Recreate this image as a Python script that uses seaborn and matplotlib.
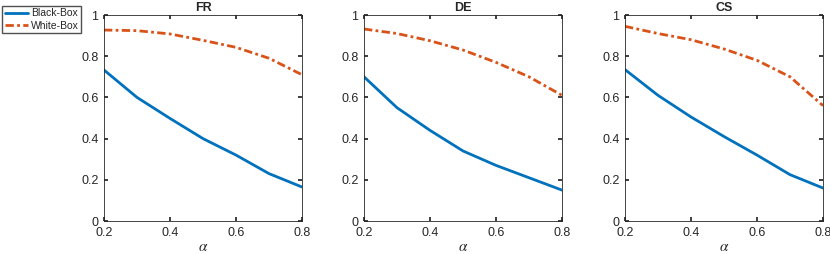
import numpy as np
import pandas as pd
import matplotlib
matplotlib.use("Agg")
import matplotlib.pyplot as plt
import seaborn as sns

alphas = [0.2, 0.3, 0.4, 0.5, 0.6, 0.7, 0.8]
langs = ["FR", "DE", "CS"]

black_fr = [0.733, 0.60, 0.498, 0.40, 0.32, 0.23, 0.165]
white_fr = [0.927, 0.924, 0.908, 0.877, 0.843, 0.79, 0.71]
black_de = [0.70, 0.55, 0.44, 0.34, 0.27, 0.21, 0.15]
white_de = [0.932, 0.91, 0.875, 0.83, 0.77, 0.70, 0.61]
black_cs = [0.735, 0.61, 0.505, 0.41, 0.32, 0.225, 0.16]
white_cs = [0.945, 0.91, 0.88, 0.835, 0.78, 0.70, 0.56]

rows = []
for lang, bb, wb in zip(langs, [black_fr, black_de, black_cs], [white_fr, white_de, white_cs]):
    for a, b, w in zip(alphas, bb, wb):
        rows.append({"lang": lang, "alpha": a, "method": "Black-Box", "score": b})
        rows.append({"lang": lang, "alpha": a, "method": "White-Box", "score": w})
df = pd.DataFrame(rows)

sns.set_theme(style="white")
plt.rcParams["font.family"] = ["Liberation Sans", "DejaVu Sans"]
plt.rcParams["mathtext.fontset"] = "stix"

palette = {"Black-Box": "#0072BD", "White-Box": "#D95319"}

fig = plt.figure(figsize=(8.3, 2.54), dpi=100)
lefts = [104, 364, 625]
width = 198
top, bottom = 15, 221
axes = []
for lang, left in zip(langs, lefts):
    ax = fig.add_axes([left / 830, 1 - bottom / 254, width / 830, (bottom - top) / 254])
    sub = df[df["lang"] == lang]
    sns.lineplot(data=sub, x="alpha", y="score", hue="method", style="method",
                 palette=palette, dashes={"Black-Box": "", "White-Box": (3, 1.2, 1, 1.2)},
                 linewidth=2, ax=ax, legend=(lang == "FR"))
    ax.set_xlim(0.2, 0.8)
    ax.set_ylim(0, 1)
    ax.set_xticks([0.2, 0.4, 0.6, 0.8])
    ax.set_xticklabels(["0.2", "0.4", "0.6", "0.8"])
    ax.set_yticks([0, 0.2, 0.4, 0.6, 0.8, 1])
    ax.set_yticklabels(["0", "0.2", "0.4", "0.6", "0.8", "1"])
    ax.tick_params(axis="both", direction="in", length=3, labelsize=9, colors="#262626",
                   top=True, right=True, bottom=True, left=True)
    ax.tick_params(axis="x", pad=4)
    ax.tick_params(axis="y", pad=4)
    for s in ax.spines.values():
        s.set_color("#262626")
        s.set_linewidth(0.6)
    ax.set_xlabel(r"$\alpha$", fontsize=11, labelpad=1)
    ax.set_ylabel("")
    ax.set_title(lang, fontsize=9, fontweight="bold", pad=3)
    axes.append(ax)

leg = axes[0].get_legend()
handles, labels = axes[0].get_legend_handles_labels()
leg.remove()
fig.legend(handles, labels, loc="upper left", bbox_to_anchor=(0.0, 0.985), fontsize=7.5,
           frameon=True, fancybox=False, edgecolor="#262626", handlelength=2.2,
           borderpad=0.25, labelspacing=0.2, handletextpad=0.3, borderaxespad=0.2)

plt.savefig("out.png", dpi=100)
